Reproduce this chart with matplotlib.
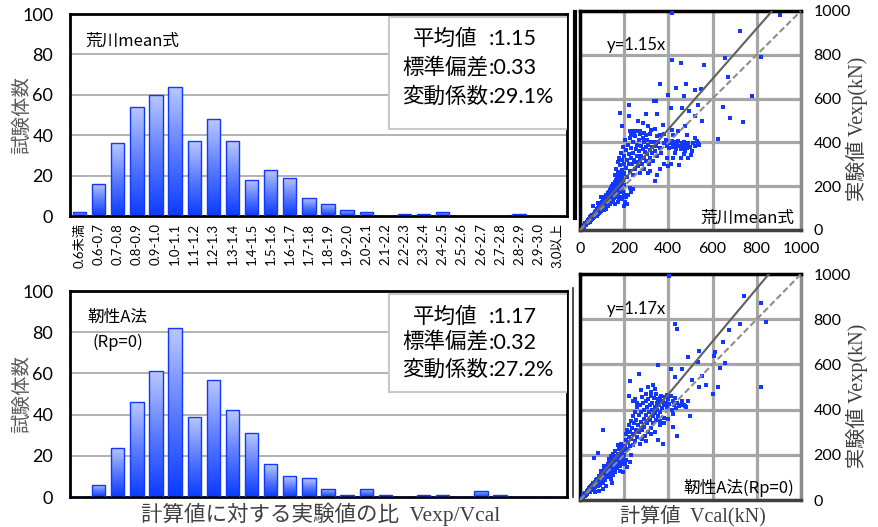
import numpy as np
import matplotlib
matplotlib.use("Agg")
import matplotlib.pyplot as plt
from matplotlib.colors import LinearSegmentedColormap
from matplotlib.patches import Rectangle
from matplotlib.lines import Line2D

plt.rcParams['font.family'] = ['Lato', 'Noto Sans CJK JP']

# 度数分布（計算値に対する実験値の比）
bins = ['0.6未満', '0.6-0.7', '0.7-0.8', '0.8-0.9', '0.9-1.0', '1.0-1.1', '1.1-1.2',
        '1.2-1.3', '1.3-1.4', '1.4-1.5', '1.5-1.6', '1.6-1.7', '1.7-1.8', '1.8-1.9',
        '1.9-2.0', '2.0-2.1', '2.1-2.2', '2.2-2.3', '2.3-2.4', '2.4-2.5', '2.5-2.6',
        '2.6-2.7', '2.7-2.8', '2.8-2.9', '2.9-3.0', '3.0以上']
arakawa_counts = [2, 16, 36, 54, 60, 64, 37, 48, 37, 18, 23, 19, 9, 6, 3, 2,
                  0, 1, 1, 2, 0, 0, 0, 1, 0, 0]
jinsei_counts = [0, 6, 24, 46, 61, 82, 39, 57, 42, 31, 16, 10, 9, 4, 1, 4,
                 1, 0, 1, 1, 0, 3, 1, 0, 0, 0]

arakawa_stats = [('平均値', ':1.15'), ('標準偏差', ':0.33'), ('変動係数', ':29.1%')]
jinsei_stats = [('平均値', ':1.17'), ('標準偏差', ':0.32'), ('変動係数', ':27.2%')]

# 散布図 (Vcal, Vexp) kN  -- 図から読み取った概略値
arakawa_points = [
    (12, 15), (18, 22), (20, 14), (25, 30), (28, 24), (30, 38), (33, 30), (36, 45), (38, 34),
    (40, 50), (42, 40), (45, 38), (46, 58), (48, 52), (50, 44), (52, 62), (55, 50), (55, 70),
    (58, 60), (60, 54), (62, 75), (63, 66), (65, 58), (68, 80), (70, 70), (70, 62), (72, 88),
    (74, 76), (75, 66), (78, 95), (80, 84), (80, 72), (82, 100), (84, 90), (85, 78), (88, 105),
    (88, 95), (90, 82), (92, 112), (93, 100), (95, 88), (96, 120), (98, 106), (100, 94),
    (100, 128), (102, 112), (104, 100), (105, 135), (107, 118), (108, 92), (110, 142),
    (111, 125), (113, 105), (115, 150), (115, 132), (117, 112), (118, 98), (120, 160),
    (121, 140), (123, 120), (125, 168), (125, 148), (127, 128), (128, 108), (130, 175),
    (131, 155), (133, 135), (135, 182), (135, 162), (137, 142), (138, 118), (140, 190),
    (141, 170), (143, 150), (145, 130), (145, 200), (147, 178), (149, 158), (150, 138),
    (150, 210), (153, 186), (155, 166), (156, 145), (158, 220), (158, 195), (160, 174),
    (162, 150), (163, 230), (164, 205), (166, 182), (168, 160), (168, 240), (170, 215),
    (172, 190), (173, 168), (175, 250), (176, 225), (178, 200), (180, 175), (180, 262),
    (182, 235), (184, 210), (185, 185), (188, 272), (188, 245), (190, 220), (192, 195),
    (193, 175), (195, 255), (196, 230), (198, 205), (160, 120), (170, 130), (175, 140),
    (185, 150), (200, 160), (190, 140), (205, 130), (210, 150), (215, 120), (200, 110),
    (218, 160), (230, 175), (241, 185), (225, 190), (60, 110), (80, 125), (95, 150),
    (160, 250), (165, 280), (170, 310), (172, 265), (178, 330), (180, 295), (185, 350),
    (188, 270), (190, 320), (195, 380), (198, 300), (200, 340), (200, 260), (205, 410),
    (207, 285), (210, 365), (212, 320), (215, 240), (218, 390), (220, 300), (222, 345),
    (225, 270), (228, 420), (230, 330), (232, 375), (235, 300), (238, 250), (240, 400),
    (242, 350), (245, 320), (248, 280), (250, 430), (252, 370), (255, 310), (258, 390),
    (260, 340), (262, 290), (265, 410), (268, 360), (270, 320), (272, 260), (275, 385),
    (278, 340), (280, 300), (283, 420), (285, 370), (288, 330), (290, 400), (292, 280),
    (295, 355), (298, 315), (300, 380), (302, 410), (305, 345), (308, 260), (310, 390),
    (312, 300), (315, 365), (318, 330), (320, 400), (325, 350), (328, 380), (330, 315),
    (335, 400), (340, 360), (345, 385), (350, 340), (355, 400), (360, 375), (365, 350),
    (339, 222), (400, 291), (450, 298), (503, 344), (317, 268), (380, 395), (390, 410),
    (395, 385), (400, 400), (405, 375), (410, 395), (415, 405), (420, 380), (425, 400),
    (430, 390), (435, 370), (440, 395), (445, 405), (450, 385), (455, 370), (460, 395),
    (465, 380), (470, 400), (475, 360), (480, 390), (485, 375), (490, 395), (500, 380),
    (510, 395), (520, 385), (530, 405), (540, 390), (455, 330), (470, 345), (490, 330),
    (505, 360), (420, 330), (430, 350), (395, 330), (410, 300), (380, 300), (360, 280),
    (350, 250), (223, 519), (262, 496), (188, 473), (286, 489), (309, 473), (376, 481),
    (415, 455), (445, 451), (476, 473), (483, 435), (521, 420), (536, 397), (226, 451),
    (241, 451), (256, 451), (271, 451), (230, 440), (245, 432), (270, 440), (300, 432),
    (290, 445), (315, 440), (322, 455), (362, 435), (380, 440), (423, 435), (340, 460),
    (350, 430), (418, 991), (905, 983), (724, 910), (418, 778), (458, 763), (561, 755),
    (655, 785), (821, 790), (671, 699), (361, 668), (433, 648), (480, 668), (547, 644),
    (520, 638), (397, 615), (473, 612), (779, 613), (335, 588), (343, 588), (223, 571),
    (532, 572), (647, 563), (414, 557), (464, 557), (182, 533), (300, 530), (350, 530),
    (492, 545), (521, 519), (677, 511), (738, 495), (553, 496), (223, 519), (624, 416),
]

jinsei_points = [
    (8, 10), (12, 20), (15, 12), (18, 28), (22, 18), (25, 32), (28, 22), (30, 40), (33, 28),
    (35, 45), (38, 34), (40, 52), (42, 40), (45, 36), (46, 58), (48, 47), (50, 62), (52, 44),
    (55, 68), (56, 55), (58, 48), (60, 75), (62, 60), (64, 52), (66, 80), (68, 68), (70, 58),
    (72, 88), (73, 74), (75, 64), (78, 95), (79, 82), (80, 70), (82, 60), (84, 100), (85, 88),
    (86, 76), (88, 108), (90, 94), (91, 80), (92, 66), (94, 115), (95, 100), (97, 86),
    (99, 122), (100, 108), (101, 92), (103, 76), (105, 130), (106, 115), (108, 98),
    (110, 138), (111, 122), (112, 104), (114, 88), (116, 145), (117, 128), (119, 110),
    (120, 150), (122, 135), (123, 118), (125, 100), (126, 158), (128, 142), (129, 124),
    (131, 108), (132, 165), (134, 148), (136, 130), (137, 112), (139, 172), (140, 155),
    (142, 136), (144, 118), (145, 178), (147, 160), (148, 142), (150, 185), (152, 168),
    (154, 150), (155, 130), (157, 190), (158, 172), (160, 155), (162, 196), (164, 178),
    (166, 160), (168, 140), (170, 200), (172, 185), (174, 165), (176, 205), (178, 188),
    (180, 170), (182, 150), (184, 210), (186, 192), (188, 175), (190, 215), (192, 198),
    (194, 180), (196, 160), (198, 220), (200, 200), (190, 235), (175, 225), (160, 215),
    (150, 205), (140, 195), (170, 245), (185, 250), (110, 150), (95, 130), (130, 180),
    (120, 60), (100, 80), (140, 95), (150, 110), (160, 125), (145, 75), (105, 50), (85, 42),
    (70, 35), (62, 185), (83, 210), (105, 308), (225, 167), (233, 200), (210, 175),
    (215, 145), (205, 160), (195, 125), (180, 130),
    (205, 240), (208, 265), (210, 290), (212, 225), (215, 310), (218, 255), (220, 280),
    (222, 330), (225, 240), (228, 300), (230, 350), (232, 270), (235, 320), (238, 245),
    (240, 370), (242, 290), (245, 340), (248, 260), (250, 390), (252, 310), (255, 355),
    (258, 280), (260, 410), (262, 330), (265, 375), (268, 300), (270, 250), (272, 420),
    (275, 345), (278, 390), (280, 310), (282, 270), (285, 430), (288, 360), (290, 400),
    (292, 325), (295, 285), (298, 440), (300, 375), (302, 410), (305, 340), (308, 300),
    (310, 445), (312, 390), (315, 420), (318, 355), (320, 320), (322, 460), (325, 400),
    (328, 430), (330, 370), (332, 340), (335, 450), (338, 410), (340, 385), (342, 355),
    (345, 470), (348, 430), (350, 400), (352, 370), (355, 445), (358, 420), (360, 390),
    (362, 350), (365, 460), (368, 435), (370, 405), (375, 440), (380, 420), (385, 455),
    (390, 430), (395, 410), (400, 445), (405, 425), (410, 460), (415, 400), (420, 440),
    (425, 420), (430, 450), (435, 405), (440, 430), (450, 415), (460, 440), (470, 420),
    (480, 410), (490, 440), (500, 373), (300, 260), (320, 290), (340, 300), (360, 330),
    (380, 340), (400, 360), (420, 380), (437, 285), (420, 325), (380, 362), (374, 246),
    (353, 266), (222, 462), (260, 429), (278, 488), (332, 509), (360, 451), (396, 466),
    (428, 429), (455, 422), (476, 417), (269, 559), (225, 528), (413, 580), (431, 543),
    (464, 580), (353, 596), (508, 533), (539, 500), (571, 507), (623, 500), (602, 467),
    (821, 500), (550, 550), (491, 633), (536, 609), (539, 658), (611, 657), (608, 636),
    (635, 583), (658, 607), (646, 698), (673, 751), (724, 777), (431, 777), (438, 757),
    (401, 991), (743, 905), (821, 873), (844, 788), (300, 470), (320, 480), (340, 490),
    (280, 455), (250, 445), (310, 500), (240, 440),
]

arakawa_ratio = 1.15
jinsei_ratio = 1.17

bar_cmap = LinearSegmentedColormap.from_list('bar', ['#0b3cff', '#5c7cff', '#b9c7ff'])
blue = '#1238ff'

fig = plt.figure(figsize=(8.79, 5.27), dpi=100)


def draw_hist(rect, counts, stats, label_lines, show_xticks):
    ax = fig.add_axes(rect)
    x = np.arange(len(counts))
    bars = ax.bar(x, counts, width=0.7, facecolor='none', edgecolor=blue, linewidth=1.0, zorder=3)
    grad = np.linspace(0, 1, 64).reshape(-1, 1)
    for p in bars.patches:
        if p.get_height() <= 0:
            continue
        x0, y0 = p.get_xy()
        im = ax.imshow(grad, extent=[x0, x0 + p.get_width(), y0, y0 + p.get_height()],
                       origin='lower', aspect='auto', cmap=bar_cmap, zorder=2)
        im.set_clip_path(p)
    ax.set_xlim(-0.5, len(counts) - 0.5)
    ax.set_ylim(0, 100)
    ax.set_yticks([0, 20, 40, 60, 80, 100])
    ax.yaxis.grid(True, color='#a6a6a6', linewidth=1.2)
    ax.set_axisbelow(True)
    ax.tick_params(axis='y', length=0, labelsize=13, pad=12)
    for s in ax.spines.values():
        s.set_color('black')
        s.set_linewidth(2)
    if show_xticks:
        ax.set_xticks(x)
        ax.set_xticklabels(bins, rotation=90, fontsize=9.5)
        ax.tick_params(axis='x', length=0, pad=5)
    else:
        ax.set_xticks([])
    ax.set_ylabel('試験体数', family=['Noto Sans CJK JP'], fontsize=14, color='#595959')
    ax.yaxis.set_label_coords(-0.075, 0.5)
    # 統計値ボックス
    box_y0 = 0.43 if show_xticks else 0.51
    ax.add_patch(Rectangle((0.642, box_y0), 0.36, 0.985 - box_y0, transform=ax.transAxes,
                           facecolor='white', edgecolor='#c8c8c8', linewidth=1.5, zorder=4))
    rows = [0.876, 0.733, 0.589] if show_xticks else [0.874, 0.748, 0.617]
    for (name, val), yy in zip(stats, rows):
        ax.text(0.755, yy, name, transform=ax.transAxes, ha='center', va='center',
                fontsize=15.5, family=['Noto Sans CJK JP'], zorder=5)
        ax.text(0.842, yy, val, transform=ax.transAxes, ha='left', va='center',
                fontsize=15.5, family=['Lato'], zorder=5)
    for txt, xx, yy in label_lines:
        ax.text(xx, yy, txt, transform=ax.transAxes, ha='left', va='center', fontsize=12,
                family=['Noto Sans CJK JP'], zorder=5)
    return ax


def draw_scatter(rect, points, ratio, name, show_xticks):
    ax = fig.add_axes(rect)
    pts = np.array(points, dtype=float)
    ax.scatter(pts[:, 0], pts[:, 1], marker='s', s=7, color=blue, linewidths=0, zorder=3)
    ax.axline((0, 0), slope=ratio, color='#606060', linewidth=1.5, zorder=4)
    ax.axline((0, 0), slope=1.0, color='#8c8c8c', linewidth=1.5, linestyle=(0, (3, 1.5)),
              zorder=4)
    ax.set_xlim(0, 1000)
    ax.set_ylim(0, 1000)
    ticks = [0, 200, 400, 600, 800, 1000]
    ax.set_xticks(ticks)
    ax.set_yticks(ticks)
    ax.grid(True, color='#a6a6a6', linewidth=2.3)
    ax.set_axisbelow(True)
    ax.yaxis.tick_right()
    ax.tick_params(length=0, labelsize=11.5, pad=9)
    if not show_xticks:
        ax.set_xticklabels([])
    ax.spines['top'].set_color('black')
    ax.spines['left'].set_color('black')
    ax.spines['bottom'].set_color('#404040')
    ax.spines['right'].set_color('#8c8c8c')
    for s in ax.spines.values():
        s.set_linewidth(2.5)
    ax.text(0.12, 0.845, 'y=%.2fx' % ratio, transform=ax.transAxes, ha='left', va='center',
            fontsize=12, family=['Lato'], zorder=5)
    ax.text(0.97, 0.055, name, transform=ax.transAxes, ha='right', va='center', fontsize=12,
            family=['Noto Sans CJK JP'], zorder=5)
    ax.text(1.253, 0.46, '実験値 Vexp(kN)', transform=ax.transAxes, rotation=90,
            ha='center', va='center', fontsize=14.5, color='#404040',
            family=['Liberation Serif', 'Noto Sans CJK JP'])
    return ax


draw_hist([0.0796, 0.5901, 0.5654, 0.3833], arakawa_counts, arakawa_stats,
          [('荒川mean式', 0.03, 0.865)], True)
ax_b = draw_hist([0.0796, 0.0569, 0.5654, 0.3909], jinsei_counts, jinsei_stats,
                 [('靭性A法', 0.035, 0.87), ('(Rp=0)', 0.045, 0.75)], False)
ax_b.set_xlabel('計算値に対する実験値の比  Vexp/Vcal', fontsize=15.5, color='#404040',
                family=['Liberation Serif', 'Noto Sans CJK JP'], va='center')
ax_b.xaxis.set_label_coords(0.505, -0.085)

draw_scatter([0.6598, 0.5636, 0.2514, 0.4156], arakawa_points, arakawa_ratio,
             '荒川mean式', True)
ax_s = draw_scatter([0.6598, 0.0512, 0.2514, 0.4288], jinsei_points, jinsei_ratio,
                    '靭性A法(Rp=0)', False)
ax_s.set_xlabel('計算値  Vcal(kN)', fontsize=14.5, color='#404040',
                family=['Liberation Serif', 'Noto Sans CJK JP'], va='center')
ax_s.xaxis.set_label_coords(0.511, -0.068)

# 左右パネルの間の区切り線
fig.add_artist(Line2D([575 / 879, 575 / 879], [1 - 12 / 527, 1 - 218 / 527],
                      color='black', linewidth=3))
fig.add_artist(Line2D([573 / 879, 573 / 879], [1 - 288 / 527, 1 - 497 / 527],
                      color='#303030', linewidth=1.2))

fig.savefig('out.png', dpi=100)
